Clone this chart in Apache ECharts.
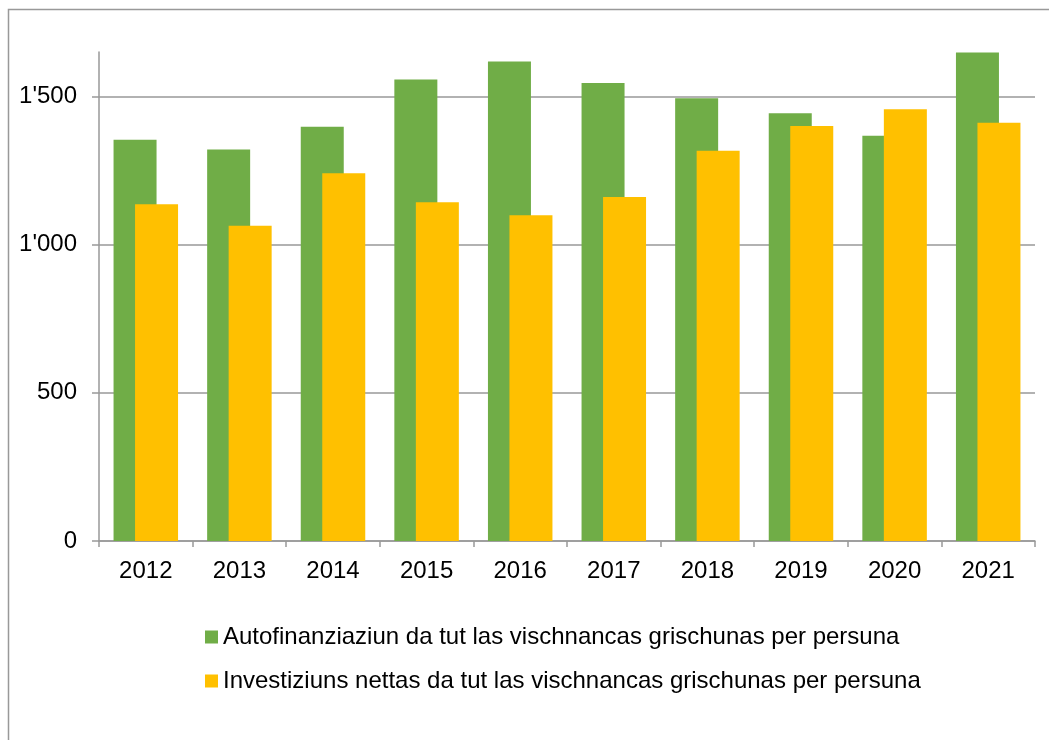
<!DOCTYPE html>
<html>
<head>
<meta charset="utf-8">
<script src="https://cdn.jsdelivr.net/npm/echarts@6/dist/echarts.min.js"></script>
<style>
	html, body { margin: 0; padding: 0; background: #fff; }
	#chart { width: 1049px; height: 740px; }
</style>
</head>
<body>
<div id="chart"></div>
<script>
	// years on the x axis
	var years = ['2012', '2013', '2014', '2015', '2016', '2017', '2018', '2019', '2020', '2021'];
	// Autofinanziaziun per persuna
	var autofinanziaziun = [1354, 1321, 1398, 1557, 1618, 1545, 1494, 1443, 1367, 1648];
	// Investiziuns nettas per persuna
	var investiziuns = [1136, 1064, 1241, 1143, 1099, 1161, 1317, 1400, 1457, 1411];
	// y tick values
	var yTicks = [0, 500, 1000, 1500];
	var seriesNames = [
		'Autofinanziaziun da tut las vischnancas grischunas per persuna',
		'Investiziuns nettas da tut las vischnancas grischunas per persuna'
	];

	var fontName = '"Liberation Sans", Arial, sans-serif';

	function fmt(v) {
		// 1'500 style thousands
		var s = String(v);
		return s.replace(/\B(?=(\d{3})+(?!\d))/g, "'");
	}

	var myChart = echarts.init(document.getElementById('chart'), null, { renderer: 'canvas' });
	myChart.setOption({
		animation: false,
		backgroundColor: '#ffffff',
		textStyle: { fontFamily: fontName },
		graphic: [{
			type: 'rect',
			shape: { x: 8.5, y: 9.5, width: 1100, height: 800 },
			style: { fill: 'none', stroke: '#999999', lineWidth: 1.5 },
			silent: true
		}],
		grid: {
			left: 99,
			right: 14,
			top: 52,
			bottom: 199,
			containLabel: false
		},
		legend: {
			orient: 'vertical',
			left: 205,
			top: 625,
			padding: 0,
			itemWidth: 13,
			itemHeight: 13,
			itemGap: 20,
			icon: 'rect',
			textStyle: { fontSize: 24, color: '#000', fontFamily: fontName },
			data: seriesNames
		},
		xAxis: {
			type: 'category',
			data: years,
			axisLine: { show: true, lineStyle: { color: '#999999', width: 1.5 } },
			axisTick: { show: true, length: 6, lineStyle: { color: '#999999', width: 1.5 } },
			axisLabel: { color: '#000', fontSize: 24, margin: 18, fontFamily: fontName },
			splitLine: { show: false }
		},
		yAxis: {
			type: 'value',
			min: 0,
			max: 1650,
			interval: 500,
			axisLine: { show: true, lineStyle: { color: '#999999', width: 1.5 } },
			axisTick: { show: true, length: 7, customValues: yTicks, lineStyle: { color: '#999999', width: 1.5 } },
			axisLabel: {
				color: '#000', fontSize: 24, margin: 22, fontFamily: fontName,
				customValues: yTicks,
				formatter: function(v) { return fmt(v); }
			},
			splitLine: { show: true, lineStyle: { color: '#999999', width: 1.5 } }
		},
		series: [{
				name: seriesNames[0],
				type: 'bar',
				data: autofinanziaziun,
				barWidth: 43,
				barGap: '-50%',
				itemStyle: { color: '#70ad47' }
			},
			{
				name: seriesNames[1],
				type: 'bar',
				data: investiziuns,
				barWidth: 43,
				barGap: '-50%',
				itemStyle: { color: '#ffc000' }
			}
		]
	});
</script>
</body>
</html>
